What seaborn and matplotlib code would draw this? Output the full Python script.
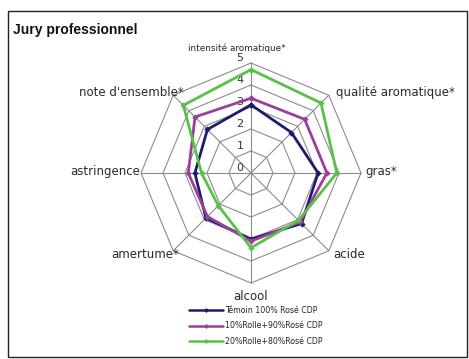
import numpy as np
import pandas as pd
import matplotlib
matplotlib.use("Agg")
import matplotlib.pyplot as plt
from matplotlib.lines import Line2D
import seaborn as sns

# Descripteurs sensoriels (sens horaire depuis le haut)
descripteurs = ["intensité aromatique*", "qualité aromatique*", "gras*", "acide",
                "alcool", "amertume*", "astringence", "note d'ensemble*"]
series = ["Témoin 100% Rosé CDP", "10%Rolle+90%Rosé CDP", "20%Rolle+80%Rosé CDP"]
temoin = [3.1, 2.6, 3.05, 3.25, 3.0, 2.9, 2.55, 2.8]
rolle10 = [3.4, 3.45, 3.45, 3.15, 3.1, 2.8, 2.85, 3.6]
rolle20 = [4.7, 4.5, 3.9, 3.05, 3.4, 2.1, 2.25, 4.35]
graduations = [0, 1, 2, 3, 4, 5]
couleurs = ["#1d1b6e", "#9c3f9c", "#58c147"]

sns.set_theme(style="white")
plt.rcParams["font.family"] = ["DejaVu Sans"]

W, H, DPI = 469, 359, 100
fig = plt.figure(figsize=(W / DPI, H / DPI), dpi=DPI)
ax = fig.add_axes([0, 0, 1, 1])
unit = 22.0            # pixels par point de note
cx, cy = 251.0, 173.0  # centre de la toile (pixels depuis le coin haut gauche)


def limites():
    ax.set_xlim(-cx / unit, (W - cx) / unit)
    ax.set_ylim(-(H - cy) / unit, cy / unit)


limites()
ax.axis("off")

n = len(descripteurs)
ang = np.pi / 2 - 2 * np.pi * np.arange(n) / n
rmax = graduations[-1]

# Toile octogonale
for g in graduations[1:]:
    xs = np.append(g * np.cos(ang), g * np.cos(ang[0]))
    ys = np.append(g * np.sin(ang), g * np.sin(ang[0]))
    ax.plot(xs, ys, color="#8c8c8c", lw=0.8, zorder=1)
for a in ang:
    ax.plot([0, rmax * np.cos(a)], [0, rmax * np.sin(a)], color="#8c8c8c", lw=0.8, zorder=1)

# Graduations le long de l'axe vertical
for g in graduations:
    ax.text(-0.5, g + 0.22, str(g), ha="center", va="center", fontsize=8,
            color="#333333", zorder=2)

# Séries
rows = []
for nom, vals in zip(series, [temoin, rolle10, rolle20]):
    for i in list(range(n)) + [0]:
        rows.append({"série": nom, "x": vals[i] * np.cos(ang[i]),
                     "y": vals[i] * np.sin(ang[i])})
df = pd.DataFrame(rows)
sns.lineplot(data=df, x="x", y="y", hue="série", palette=couleurs, sort=False,
             estimator=None, marker="D", markersize=3.2, markeredgewidth=0,
             linewidth=2.0, ax=ax, legend=False, zorder=3)
limites()


# Libellés des axes (positions en pixels)
def px(x, y):
    return (x - cx) / unit, (cy - y) / unit


lib = [
    (descripteurs[0], 237, 48, "center", 6.4),
    (descripteurs[1], 336, 92, "left", 8.5),
    (descripteurs[2], 365, 171, "left", 8.5),
    (descripteurs[3], 333, 254, "left", 8.5),
    (descripteurs[4], 251, 297, "center", 8.5),
    (descripteurs[5], 179, 254, "right", 8.5),
    (descripteurs[6], 140, 171, "right", 8.5),
    (descripteurs[7], 184, 92, "right", 8.5),
]
for txt, x, y, ha, fs in lib:
    ax.text(*px(x, y), txt, ha=ha, va="center", fontsize=fs, color="#2a2a2a")

fig.text(13 / W, 1 - 30 / H, "Jury professionnel", fontsize=10, fontweight="bold",
         ha="left", va="center", color="#111111", family=["Liberation Sans", "DejaVu Sans"])

# Légende
handles = [Line2D([], [], color=c, lw=1.8, marker="D", markersize=2.5, markeredgewidth=0)
           for c in couleurs]
fig.legend(handles, series, loc="center", bbox_to_anchor=(256 / W, 1 - 326 / H),
           frameon=False, fontsize=5.7, handlelength=4.3, handletextpad=0.3,
           labelspacing=0.85, borderpad=0)

# Cadre
fig.add_artist(plt.Rectangle((8 / W, 2 / H), 459 / W, 1 - 13 / H, transform=fig.transFigure,
                             fill=False, edgecolor="#222222", lw=1.0))

fig.savefig("out.png", dpi=DPI)
